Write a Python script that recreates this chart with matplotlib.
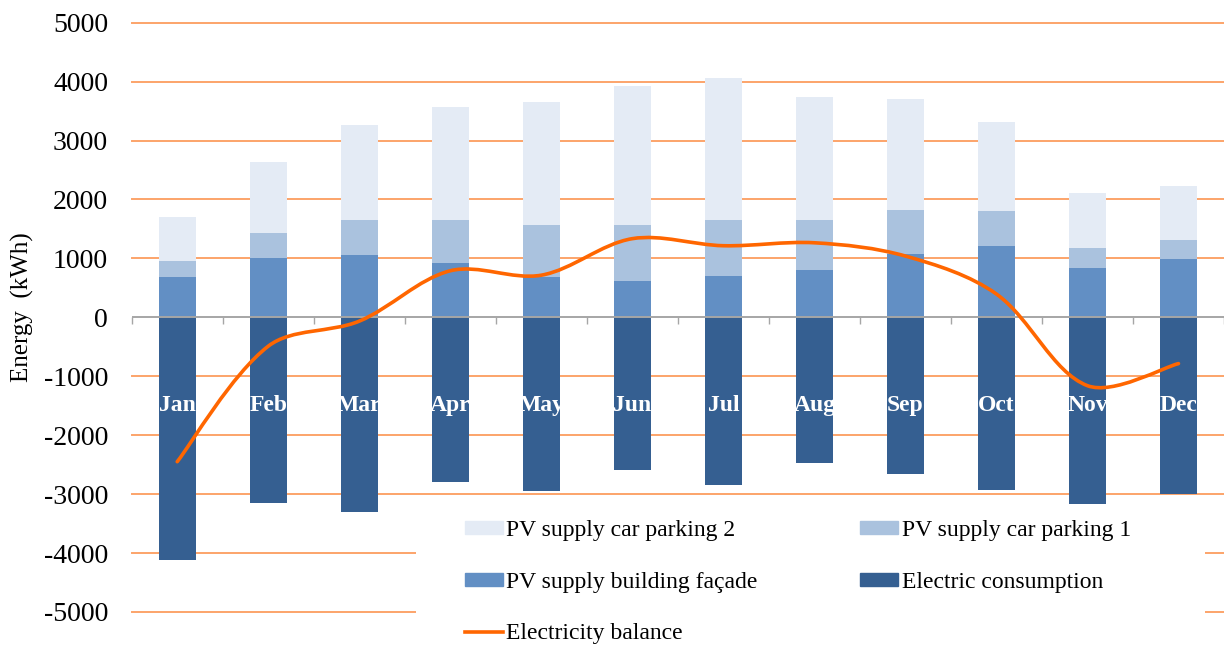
import numpy as np
import matplotlib.pyplot as plt
from matplotlib.path import Path
from matplotlib.patches import PathPatch, Rectangle
from matplotlib.lines import Line2D

plt.rcParams['font.family'] = ['Liberation Serif', 'DejaVu Serif']

months = ['Jan', 'Feb', 'Mar', 'Apr', 'May', 'Jun', 'Jul', 'Aug', 'Sep', 'Oct', 'Nov', 'Dec']
facade = [680, 1015, 1050, 920, 690, 610, 695, 805, 1080, 1210, 840, 990]
parking1 = [270, 420, 600, 740, 875, 955, 965, 845, 745, 590, 335, 325]
parking2 = [745, 1205, 1620, 1915, 2095, 2360, 2405, 2090, 1885, 1520, 930, 915]
consumption = [-4125, -3150, -3310, -2800, -2945, -2595, -2840, -2475, -2665, -2925, -3170, -3005]
balance = [-2450, -490, -65, 790, 715, 1335, 1215, 1265, 1040, 395, -1160, -785]
yticks = [-5000, -4000, -3000, -2000, -1000, 0, 1000, 2000, 3000, 4000, 5000]

c_p2 = '#e4ebf5'
c_p1 = '#aac2de'
c_fac = '#628fc4'
c_cons = '#355f91'
c_line = '#ff6600'
c_grid = '#fca46a'


def smooth_path(xs, ys, yscale):
    # smoothed line like the spreadsheet one: bezier segments, tangents
    # weighted by the on-screen length of the neighbouring segments
    pts = np.column_stack([xs, ys]).astype(float)
    ext = np.vstack([pts[0], pts, pts[-1]])

    def dist(a, b):
        return np.hypot(b[0] - a[0], (b[1] - a[1]) * yscale)

    verts = [pts[0]]
    codes = [Path.MOVETO]
    for i in range(len(pts) - 1):
        p0, p1, p2, p3 = ext[i], ext[i + 1], ext[i + 2], ext[i + 3]
        d01, d12, d23 = dist(p0, p1), dist(p1, p2), dist(p2, p3)
        f1 = d12 / (d01 + d12) / 3 if d01 > 0 else 1 / 6
        f2 = d12 / (d12 + d23) / 3 if d23 > 0 else 1 / 6
        verts += [p1 + (p2 - p0) * f1, p2 - (p3 - p1) * f2, p2]
        codes += [Path.CURVE4] * 3
    return Path(verts, codes)


fig = plt.figure(figsize=(12.24, 6.48), dpi=100)
ax = fig.add_axes([0.1076, 0.0556, 0.8924, 0.9094])

x = np.arange(len(months))
w = 0.41
bot1 = np.array(facade)
bot2 = bot1 + np.array(parking1)
ax.bar(x, consumption, w, color=c_cons, zorder=2)
ax.bar(x, facade, w, color=c_fac, zorder=2)
ax.bar(x, parking1, w, bottom=bot1, color=c_p1, zorder=2)
ax.bar(x, parking2, w, bottom=bot2, color=c_p2, zorder=2)

ax.add_patch(PathPatch(smooth_path(x, balance, 59 / 91 / 1000), facecolor='none',
                       edgecolor=c_line, lw=2.6, zorder=4, capstyle='round'))

for i, m in enumerate(months):
    ax.text(i, -1500, m, color='white', fontsize=17, fontweight='bold',
            ha='center', va='center', zorder=3)

ax.set_xlim(-0.5, 11.5)
ax.set_ylim(-5000, 5000)
ax.set_yticks(yticks)
ax.set_yticklabels([str(v) for v in yticks], fontsize=20)
ax.tick_params(axis='y', length=0, pad=17)
for v in yticks:
    if v != 0:
        ax.axhline(v, color=c_grid, lw=1.4, zorder=1, clip_on=False)

ax.set_xticks(np.arange(-0.5, 12, 1))
ax.set_xticklabels([])
ax.tick_params(axis='x', length=5, color='#a6a6a6', width=1)
for s in ['left', 'right', 'top', 'bottom']:
    ax.spines[s].set_visible(False)
ax.axhline(0, color='#a6a6a6', lw=1.4, zorder=3)
ax.xaxis.set_ticks_position('bottom')
ax.spines['bottom'].set_position(('data', 0))
ax.spines['bottom'].set_visible(False)

fig.text(22 / 1224, 1 - 307 / 648, 'Energy  (kWh)', fontsize=18, rotation=90,
         ha='center', va='center')

# white legend area hides the lower gridlines, but sits under the bars
ax.add_patch(Rectangle((0.26, -0.1), 0.723, 0.277, transform=ax.transAxes,
                       facecolor='white', edgecolor='none', zorder=1.5, clip_on=False))

handles = [
    Rectangle((0, 0), 1, 1, color=c_p2),
    Rectangle((0, 0), 1, 1, color=c_fac),
    Line2D([], [], color=c_line, lw=2.6),
    Rectangle((0, 0), 1, 1, color=c_p1),
    Rectangle((0, 0), 1, 1, color=c_cons),
]
labels = ['PV supply car parking 2', 'PV supply building façade', 'Electricity balance',
          'PV supply car parking 1', 'Electric consumption']
leg = fig.legend(handles, labels, loc='upper left', bbox_to_anchor=(465 / 1224, 1 - 520 / 648),
                 ncol=2, frameon=False, fontsize=17, handlelength=1.6, handleheight=0.5,
                 handletextpad=0.15, columnspacing=4.35, labelspacing=1.3,
                 borderpad=0, borderaxespad=0)
leg.set_zorder(6)

fig.savefig('out.png', dpi=100)
